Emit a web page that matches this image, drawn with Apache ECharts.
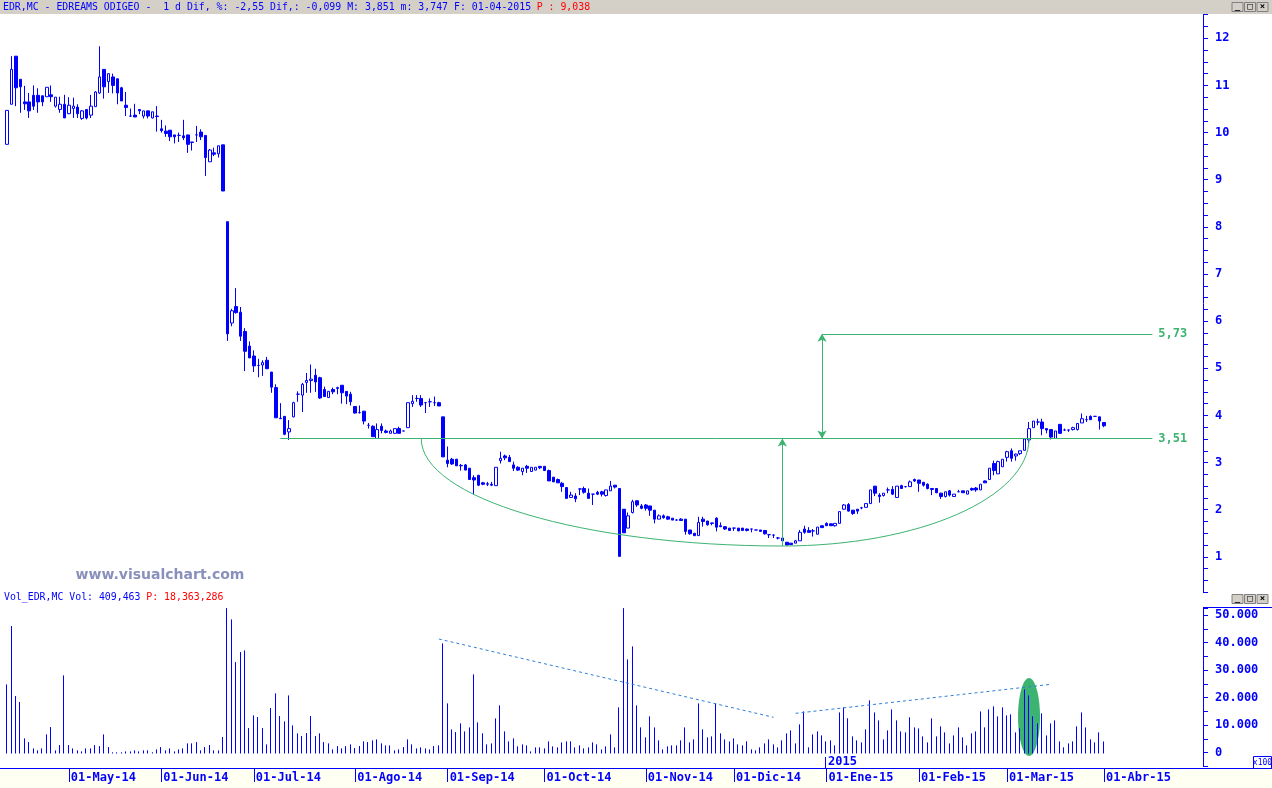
<!DOCTYPE html>
<html><head><meta charset="utf-8">
<script src="https://cdn.jsdelivr.net/npm/echarts@6/dist/echarts.min.js"></script>
<style>html,body{margin:0;padding:0;background:#fff}#c{width:1272px;height:788px}</style>
</head><body><div id="c"></div><script>
// trading sessions per month (future sessions after 01-04-2015 are empty slots)
const monthKeys = ['2014-04','2014-05','2014-06','2014-07','2014-08','2014-09','2014-10','2014-11','2014-12','2015-01','2015-02','2015-03','2015-04','2015-05'];
const monthDays = [
 [9,10,11,14,15,16,17,22,23,24,25,28,29,30],
 [2,5,6,7,8,9,12,13,14,15,16,19,20,21,22,23,26,27,28,29,30],
 [2,3,4,5,6,9,10,11,12,13,16,17,18,19,20,23,24,25,26,27,30],
 [1,2,3,4,7,8,9,10,11,14,15,16,17,18,21,22,23,24,25,28,29,30,31],
 [1,4,5,6,7,8,11,12,13,14,15,18,19,20,21,22,25,26,27,28,29],
 [1,2,3,4,5,8,9,10,11,12,15,16,17,18,19,22,23,24,25,26,29,30],
 [1,2,3,6,7,8,9,10,13,14,15,16,17,20,21,22,23,24,27,28,29,30,31],
 [3,4,5,6,7,10,11,12,13,14,17,18,19,20,21,24,25,26,27,28],
 [1,2,3,4,5,8,9,10,11,12,15,16,17,18,19,22,23,24,29,30,31],
 [2,5,6,7,8,9,12,13,14,15,16,19,20,21,22,23,26,27,28,29,30],
 [2,3,4,5,6,9,10,11,12,13,16,17,18,19,20,23,24,25,26,27],
 [2,3,4,5,6,9,10,11,12,13,16,17,18,19,20,23,24,25,26,27,30,31],
 [1,2,7,8,9,10,13,14,15,16,17,20,21,22,23,24,27,28,29,30],
 [4,5,6]
];
const monthNames = ['Ene','Feb','Mar','Abr','May','Jun','Jul','Ago','Sep','Oct','Nov','Dic'];

// [open, high, low, close]
const ohlc = [
[9.75,10.47,9.75,10.47],[10.60,11.62,10.60,11.34],[11.62,11.62,10.56,10.95],[11.13,11.13,10.42,10.97],[10.65,10.99,10.48,10.61],
[10.65,10.84,10.31,10.46],[10.79,11.00,10.48,10.56],[10.79,10.94,10.42,10.65],[10.78,10.78,10.56,10.65],[10.76,10.96,10.76,10.96],
[10.80,11.00,10.65,10.76],[10.56,10.75,10.53,10.75],[10.49,10.76,10.42,10.60],[10.60,10.80,10.31,10.31],[10.40,10.75,10.39,10.58],
[10.51,10.74,10.31,10.56],[10.54,10.60,10.31,10.40],[10.30,10.48,10.27,10.46],[10.49,10.49,10.28,10.31],[10.37,10.80,10.31,10.56],
[10.55,10.88,10.55,10.86],[10.84,11.83,10.82,11.18],[11.34,11.34,10.72,10.97],[11.08,11.25,10.84,11.25],[11.18,11.25,10.83,11.00],
[11.14,11.14,10.60,10.84],[10.95,10.97,10.67,10.67],[10.58,10.86,10.35,10.53],[10.35,10.51,10.33,10.35],[10.37,10.61,10.33,10.33],
[10.49,10.49,10.39,10.46],[10.35,10.46,10.30,10.46],[10.46,10.46,10.30,10.35],[10.31,10.44,10.30,10.44],[10.35,10.56,10.02,10.34],
[10.08,10.27,10.00,10.04],[10.03,10.15,9.91,9.98],[10.05,10.05,9.82,9.91],[9.95,9.95,9.77,9.91],[9.94,10.00,9.80,9.94],
[9.93,10.27,9.84,9.89],[9.95,9.95,9.57,9.75],[9.79,9.80,9.62,9.80],[9.95,10.14,9.80,9.95],[10.01,10.07,9.84,9.91],
[9.94,9.94,9.08,9.47],[9.38,9.65,9.38,9.63],[9.57,9.68,9.50,9.54],[9.55,9.72,9.47,9.72],[9.74,9.74,8.76,8.76],
[8.11,8.11,5.58,5.73],[5.96,6.26,5.89,6.22],[6.31,6.70,6.16,6.18],[6.19,6.30,5.58,5.68],[5.78,5.85,4.94,5.36],
[5.47,5.57,5.22,5.22],[5.26,5.38,4.92,5.05],[5.06,5.20,4.81,5.06],[5.07,5.17,4.84,5.12],[5.17,5.24,4.99,4.99],
[4.92,4.92,4.48,4.60],[4.59,4.66,3.95,3.95],[3.94,4.26,3.93,3.93],[3.98,3.98,3.58,3.60],[3.65,3.90,3.48,3.72],
[3.97,4.29,3.96,4.27],[4.45,4.51,4.29,4.45],[4.43,4.69,4.07,4.66],[4.70,4.90,4.48,4.74],[4.74,5.08,4.48,4.77],
[4.85,4.99,4.50,4.71],[4.80,4.82,4.35,4.37],[4.55,4.61,4.39,4.40],[4.38,4.51,4.38,4.51],[4.55,4.59,4.45,4.50],
[4.57,4.61,4.45,4.59],[4.64,4.64,4.25,4.48],[4.51,4.51,4.24,4.41],[4.45,4.50,4.21,4.29],[4.19,4.19,4.04,4.05],
[4.06,4.21,4.04,4.06],[4.09,4.09,3.81,3.88],[3.79,3.84,3.72,3.79],[3.77,3.79,3.55,3.55],[3.51,3.83,3.51,3.70],
[3.77,3.83,3.62,3.68],[3.67,3.70,3.62,3.64],[3.62,3.70,3.62,3.67],[3.62,3.72,3.62,3.72],[3.72,3.76,3.62,3.62],
[3.67,3.67,3.67,3.67],[3.74,4.27,3.74,4.27],[4.25,4.43,4.18,4.30],[4.36,4.43,4.29,4.36],[4.36,4.43,4.18,4.22],
[4.27,4.27,4.05,4.27],[4.29,4.36,4.18,4.29],[4.27,4.40,4.20,4.27],[4.27,4.29,4.20,4.20],[3.97,3.97,3.12,3.12],
[3.05,3.34,2.90,2.98],[3.07,3.10,2.95,2.97],[3.07,3.08,2.93,2.93],[2.94,2.97,2.83,2.93],[2.95,2.97,2.84,2.84],
[2.88,2.88,2.64,2.64],[2.68,2.73,2.33,2.63],[2.73,2.73,2.50,2.52],[2.57,2.59,2.52,2.54],[2.55,2.59,2.50,2.54],
[2.54,2.59,2.50,2.52],[2.51,2.90,2.51,2.90],[3.04,3.23,2.98,3.09],[3.14,3.17,3.05,3.10],[3.11,3.16,3.02,3.02],
[2.95,3.02,2.82,2.88],[2.90,2.92,2.82,2.84],[2.81,2.88,2.73,2.88],[2.92,2.95,2.78,2.88],[2.81,2.90,2.81,2.90],
[2.84,2.90,2.84,2.90],[2.92,2.92,2.86,2.89],[2.92,2.92,2.83,2.83],[2.83,2.85,2.61,2.61],[2.69,2.69,2.59,2.59],
[2.64,2.66,2.57,2.57],[2.56,2.59,2.38,2.49],[2.47,2.47,2.24,2.24],[2.26,2.38,2.26,2.31],[2.29,2.35,2.16,2.23],
[2.44,2.45,2.31,2.44],[2.45,2.49,2.34,2.37],[2.35,2.45,2.24,2.24],[2.33,2.33,2.10,2.33],[2.37,2.40,2.31,2.33],
[2.38,2.40,2.28,2.33],[2.30,2.42,2.28,2.42],[2.40,2.61,2.40,2.50],[2.52,2.52,2.45,2.48],[2.45,2.45,1.01,1.01],
[2.01,2.01,1.51,1.51],[1.61,1.94,1.61,1.87],[1.94,2.21,1.92,2.17],[2.19,2.19,2.06,2.10],[2.08,2.12,2.01,2.03],
[2.10,2.12,1.98,2.03],[2.08,2.08,1.87,1.99],[1.99,1.99,1.71,1.80],[1.80,1.90,1.80,1.87],[1.87,1.90,1.81,1.83],
[1.85,1.87,1.79,1.80],[1.82,1.82,1.78,1.78],[1.78,1.80,1.77,1.78],[1.80,1.82,1.77,1.77],[1.80,1.80,1.47,1.54],
[1.57,1.57,1.47,1.49],[1.50,1.50,1.44,1.45],[1.45,1.85,1.45,1.73],[1.80,1.85,1.64,1.75],[1.76,1.76,1.66,1.68],
[1.72,1.72,1.67,1.71],[1.82,1.84,1.54,1.63],[1.66,1.73,1.63,1.64],[1.64,1.65,1.57,1.59],[1.61,1.61,1.56,1.56],
[1.61,1.61,1.55,1.61],[1.61,1.61,1.55,1.55],[1.61,1.61,1.55,1.56],[1.59,1.60,1.54,1.56],[1.59,1.59,1.52,1.59],
[1.57,1.57,1.57,1.57],[1.57,1.57,1.54,1.54],[1.56,1.57,1.47,1.49],[1.47,1.47,1.40,1.47],[1.46,1.48,1.40,1.46],
[1.40,1.42,1.37,1.40],[1.40,1.44,1.29,1.34],[1.31,1.31,1.25,1.25],[1.29,1.29,1.25,1.26],[1.29,1.36,1.29,1.34],
[1.34,1.57,1.34,1.52],[1.59,1.66,1.49,1.52],[1.56,1.63,1.52,1.52],[1.55,1.59,1.43,1.55],[1.48,1.63,1.48,1.63],
[1.66,1.66,1.62,1.62],[1.71,1.73,1.66,1.66],[1.70,1.71,1.66,1.66],[1.66,1.71,1.64,1.71],[1.71,1.96,1.71,1.96],
[2.01,2.12,2.00,2.10],[2.11,2.14,1.96,1.97],[1.99,1.99,1.89,1.92],[2.01,2.01,1.91,1.97],[2.04,2.06,2.01,2.04],
[2.05,2.13,2.05,2.13],[2.13,2.42,2.13,2.42],[2.50,2.50,2.29,2.35],[2.31,2.35,2.15,2.28],[2.30,2.35,2.28,2.35],
[2.42,2.47,2.35,2.42],[2.43,2.50,2.31,2.33],[2.26,2.50,2.26,2.50],[2.51,2.53,2.44,2.45],[2.49,2.49,2.47,2.49],
[2.49,2.62,2.49,2.59],[2.64,2.66,2.59,2.61],[2.63,2.63,2.38,2.56],[2.58,2.59,2.49,2.52],[2.54,2.56,2.43,2.45],
[2.45,2.45,2.31,2.43],[2.45,2.45,2.35,2.36],[2.35,2.36,2.23,2.28],[2.28,2.38,2.26,2.38],[2.40,2.42,2.28,2.31],
[2.28,2.33,2.28,2.33],[2.38,2.42,2.38,2.38],[2.40,2.40,2.36,2.36],[2.33,2.40,2.33,2.40],[2.45,2.47,2.40,2.42],
[2.46,2.48,2.38,2.42],[2.42,2.54,2.42,2.54],[2.61,2.62,2.57,2.57],[2.64,2.88,2.64,2.88],[2.98,3.04,2.73,2.83],
[2.76,3.04,2.76,3.02],[2.91,3.07,2.91,3.07],[3.11,3.25,3.02,3.23],[3.25,3.30,3.02,3.09],[3.14,3.19,3.04,3.18],
[3.19,3.25,3.16,3.25],[3.26,3.51,3.26,3.50],[3.48,3.86,3.41,3.72],[3.74,3.88,3.74,3.88],[3.86,3.93,3.79,3.86],
[3.86,3.93,3.58,3.72],[3.72,3.72,3.62,3.69],[3.70,3.70,3.49,3.54],[3.51,3.67,3.51,3.67],[3.81,3.81,3.62,3.62],
[3.69,3.72,3.67,3.69],[3.69,3.70,3.65,3.69],[3.70,3.76,3.68,3.74],[3.70,3.83,3.68,3.83],[3.84,4.04,3.84,3.93],
[3.91,3.99,3.86,3.91],[3.98,4.00,3.91,3.91],[3.98,3.98,3.97,3.98],[3.97,3.97,3.70,3.88],[3.85,3.85,3.75,3.78]
];

// volume in units of x100
const volumes = [
24800,46000,20570,18400,5200,3870,1570,850,1570,6650,9300,850,2780,28070,2780,1570,850,480,1570,1570,
2780,2420,6650,2060,150,150,150,480,480,850,480,850,850,150,1210,2060,850,1570,480,1210,
1570,3390,3390,3870,850,2060,2780,850,850,5690,53500,48400,32900,36540,37150,8950,13550,12950,8950,3030,
16210,21540,13310,11370,20810,9920,7020,6050,7140,13310,6050,7020,3870,3390,1210,2420,1570,2420,3030,1690,
2420,4110,3870,4480,4840,3390,2660,2660,850,1210,2060,4840,3030,1570,1940,1570,1210,2420,2660,39690,
17910,8470,7500,10650,7740,9200,28440,11010,7020,3030,3390,12460,17180,7740,4110,5200,2300,3030,2660,480,
1940,1940,1570,4110,2300,1940,3750,4110,4110,1940,2660,1570,1940,3750,3030,1210,2300,6650,1940,16460,
53500,33880,38600,17180,9200,5570,13190,9200,4480,1210,2300,2660,2660,4480,9200,3750,4840,17910,8470,5570,
5930,17910,7020,4840,4110,5200,3030,2660,4110,1210,850,1940,3390,4840,3030,1940,4480,7020,8110,3390,
10290,15000,1940,6650,7740,6290,4110,4480,2660,14640,16460,12500,5930,4480,3750,8470,19000,14640,11740,4840,
8110,15730,11740,7740,7380,12830,9200,8830,5930,3750,12460,5930,9560,7380,3390,6290,9200,5570,2660,7020,
7740,15000,9200,15730,16820,13190,16460,13550,13920,7380,8830,22990,20810,13190,10650,14280,6290,10650,11740,4110,
1940,3390,4110,9560,14640,9200,4840,3750,7380,4095
];

// chart annotations drawn on the reference (category index, value)
const levelLow = 3.51, levelHigh = 5.73;
const levelLowStart = 62, levelHighStart = 185, levelEnd = 260;
const cupLeft = [94, 3.51], cupBottom = [176, 1.23], cupRight = [232, 3.51];
const volTrendDown = [[98, 41290], [174, 12850]];
const volTrendUp = [[179, 14300], [237, 24840]];
const volHighlight = [232, 13000];
const yearMarker = {index: 186, text: '2015'};

const BLUE = '#0000ff', GREEN = '#3cb371';
const pad = n => (n < 10 ? '0' : '') + n;
const dates = [];
monthKeys.forEach((k, i) => monthDays[i].forEach(d => dates.push(k + '-' + pad(d))));
const monthStart = new Set();
for (let i = 1; i < ohlc.length; i++) if (dates[i].slice(0, 7) !== dates[i - 1].slice(0, 7)) monthStart.add(i);
const showIdx = (i) => monthStart.has(i);
const dateLabel = v => { const p = v.split('-'); return '01-' + monthNames[+p[1] - 1] + '-' + p[0].slice(2); };
const fmtVol = v => { if (v < 0 || Math.abs(v % 10000) > 1e-6) return ''; return String(Math.round(v)).replace(/\B(?=(\d{3})+(?!\d))/g, '.'); };
const fmtPrice = v => Math.abs(v - Math.round(v)) < 1e-6 ? String(Math.round(v)) : '';

const MONO = 'DejaVu Sans Mono';
const chart = echarts.init(document.getElementById('c'), null, {renderer: 'canvas'});

function renderVolume(params, api) {
  const top = api.coord([api.value(0), api.value(1)]);
  const base = api.coord([api.value(0), 0]);
  const cs = params.coordSys;
  const x = Math.round(top[0]) - 0.5;
  const y1 = Math.max(top[1], cs.y);
  return {type: 'line', shape: {x1: x, y1: y1, x2: x, y2: Math.round(base[1]) + 0.5}, style: {stroke: BLUE, lineWidth: 1}};
}

const option = {
  animation: false,
  backgroundColor: '#ffffff',
  grid: [
    {left: 5, right: 69, top: 14.7, height: 577.5},
    {left: 5, right: 69, top: 608.1, height: 158.4}
  ],
  xAxis: [
    {type: 'category', gridIndex: 0, data: dates, boundaryGap: true,
     axisLine: {show: false, onZero: false}, axisTick: {show: false}, axisLabel: {show: false}, splitLine: {show: false}},
    {type: 'category', gridIndex: 1, data: dates, boundaryGap: true, position: 'bottom', offset: 1.5,
     axisLine: {show: false, onZero: false},
     axisTick: {show: true, alignWithLabel: true, interval: (i) => showIdx(i), length: 14, lineStyle: {color: BLUE, width: 1}},
     axisLabel: {interval: (i) => showIdx(i), formatter: dateLabel, align: 'left', padding: [0, 0, 0, 2], margin: 4,
       color: BLUE, fontWeight: 'bold', fontFamily: MONO, fontSize: 12},
     splitLine: {show: false}}
  ],
  yAxis: [
    {type: 'value', gridIndex: 0, position: 'right', min: 0.25, max: 12.5, interval: 0.25, scale: false,
     splitLine: {show: false}, axisLine: {show: true, lineStyle: {color: BLUE, width: 1}},
     axisTick: {show: true, length: 5, lineStyle: {color: BLUE}},
     axisLabel: {formatter: fmtPrice, margin: 12, color: BLUE, fontWeight: 'bold', fontFamily: MONO, fontSize: 12}},
    {type: 'value', gridIndex: 1, position: 'right', min: -5000, max: 52500, interval: 5000,
     splitLine: {show: false}, axisLine: {show: true, lineStyle: {color: BLUE, width: 1}},
     axisTick: {show: true, length: 5, lineStyle: {color: BLUE}},
     axisLabel: {formatter: fmtVol, margin: 12, color: BLUE, fontWeight: 'bold', fontFamily: MONO, fontSize: 12}}
  ],
  series: [
    {type: 'candlestick', xAxisIndex: 0, yAxisIndex: 0, barWidth: 3,
     data: ohlc.map(r => [r[0], r[3], r[2], r[1]]),
     itemStyle: {color: '#ffffff', color0: BLUE, borderColor: BLUE, borderColor0: BLUE, borderColorDoji: BLUE, borderWidth: 1},
     markLine: {
       silent: true, animation: false,
       lineStyle: {color: GREEN, width: 1, type: 'solid'},
       label: {show: true, position: 'end', distance: 6, color: GREEN, fontWeight: 'bold', fontFamily: MONO, fontSize: 12},
       data: [
         [{coord: [levelLowStart, levelLow], symbol: 'none'}, {coord: [levelEnd, levelLow], symbol: 'none', label: {formatter: '3,51'}}],
         [{coord: [levelHighStart, levelHigh], symbol: 'none'}, {coord: [levelEnd, levelHigh], symbol: 'none', label: {formatter: '5,73'}}],
         [{coord: [levelHighStart, levelLow], symbol: 'arrow', symbolSize: [7, 8]}, {coord: [levelHighStart, levelHigh], symbol: 'arrow', symbolSize: [7, 8], label: {show: false}}],
         [{coord: cupBottom, symbol: 'none'}, {coord: [cupBottom[0], levelLow], symbol: 'arrow', symbolSize: [7, 8], label: {show: false}}]
       ]
     }},
    {type: 'custom', xAxisIndex: 1, yAxisIndex: 1, z: 3, clip: false,
     data: volumes.map((v, i) => [i, v]),
     encode: {x: 0, y: 1},
     renderItem: renderVolume},
    {type: 'line', xAxisIndex: 1, yAxisIndex: 1, data: [], symbol: 'none',
     markLine: {
       silent: true, animation: false, symbol: 'none',
       lineStyle: {color: '#2f7fd6', width: 1, type: [3, 3]},
       label: {show: false},
       data: [
         [{coord: volTrendDown[0]}, {coord: volTrendDown[1]}],
         [{coord: volTrendUp[0]}, {coord: volTrendUp[1]}]
       ]
     }}
  ]
};
chart.setOption(option);

function btns(y) {
  const xs = [1232, 1244.5, 1257];
  const glyph = ['_', '□', '×'];
  const out = [];
  xs.forEach((x, i) => {
    out.push({type: 'rect', z: 50, shape: {x: x, y: y, width: 11, height: 9}, style: {fill: '#d4d0c8', stroke: '#808080', lineWidth: 1}});
    out.push({type: 'text', z: 51, x: x + 5.5, y: y + 4, style: {text: glyph[i], fill: '#000', font: 'bold 9px ' + MONO, align: 'center', verticalAlign: 'middle', textAlign: 'center', textVerticalAlign: 'middle'}});
  });
  return out;
}
function monoText(x, y, text, fill) {
  return {type: 'text', z: 51, x: x, y: y, scaleX: 0.896, style: {text: text, fill: fill, font: '11px ' + MONO, align: 'left', verticalAlign: 'middle', textAlign: 'left', textVerticalAlign: 'middle'}};
}

const P = (si, pt) => chart.convertToPixel({seriesIndex: si}, pt);
const L = P(0, cupLeft), B = P(0, cupBottom), R = P(0, cupRight);
const k = 0.5523;
const E = P(1, volHighlight);
const Y = P(1, [yearMarker.index, 0]);
const cw = 5.93;

chart.setOption({
  graphic: [
    {type: 'rect', z: -10, shape: {x: 0, y: 768, width: 1272, height: 20}, style: {fill: '#fffff2'}},
    {type: 'line', z: 5, shape: {x1: 0, y1: 768.5, x2: 1272, y2: 768.5}, style: {stroke: BLUE, lineWidth: 1}},
    {type: 'line', z: 5, shape: {x1: 1203, y1: 607.5, x2: 1272, y2: 607.5}, style: {stroke: BLUE, lineWidth: 1}},
    {type: 'rect', z: 49, shape: {x: 0, y: 0, width: 1272, height: 14}, style: {fill: '#d4d0c8'}},
    monoText(3, 7.5, 'EDR,MC - EDREAMS ODIGEO -  1 d Dif, %: -2,55 Dif,: -0,099 M: 3,851 m: 3,747 F: 01-04-2015', BLUE),
    monoText(3 + 90 * cw, 7.5, 'P : 9,038', '#ff0000'),
    ...btns(2.5),
    monoText(4, 597.5, 'Vol_EDR,MC Vol: 409,463', BLUE),
    monoText(4 + 24 * cw, 597.5, 'P: 18,363,286', '#ff0000'),
    ...btns(594.5),
    {type: 'rect', z: 6, shape: {x: 1253.5, y: 756.5, width: 18, height: 12}, style: {fill: '#ffffff', stroke: BLUE, lineWidth: 1}},
    {type: 'text', z: 7, x: 1262.5, y: 763, style: {text: 'x100', fill: BLUE, font: '8px ' + MONO, align: 'center', verticalAlign: 'middle', textAlign: 'center', textVerticalAlign: 'middle'}},
    {type: 'text', z: 5, x: 160, y: 575, style: {text: 'www.visualchart.com', fill: '#8a90bc', font: 'bold 14px "DejaVu Sans"', align: 'center', verticalAlign: 'middle', textAlign: 'center', textVerticalAlign: 'middle'}},
    {type: 'bezierCurve', z: 4, shape: {x1: L[0], y1: L[1], cpx1: L[0], cpy1: L[1] + k * (B[1] - L[1]), cpx2: B[0] - k * (B[0] - L[0]), cpy2: B[1], x2: B[0], y2: B[1]}, style: {stroke: GREEN, lineWidth: 1, fill: null}},
    {type: 'bezierCurve', z: 4, shape: {x1: B[0], y1: B[1], cpx1: B[0] + k * (R[0] - B[0]), cpy1: B[1], cpx2: R[0], cpy2: R[1] + k * (B[1] - R[1]), x2: R[0], y2: R[1]}, style: {stroke: GREEN, lineWidth: 1, fill: null}},
    {type: 'ellipse', z: 1, shape: {cx: E[0], cy: E[1], rx: 11, ry: 39}, style: {fill: GREEN}},
    {type: 'line', z: 5, shape: {x1: Math.round(Y[0]) - 0.5, y1: 757, x2: Math.round(Y[0]) - 0.5, y2: 768}, style: {stroke: BLUE, lineWidth: 1}},
    {type: 'text', z: 5, x: Math.round(Y[0]) + 2, y: 762, style: {text: yearMarker.text, fill: BLUE, font: 'bold 12px ' + MONO, align: 'left', verticalAlign: 'middle', textAlign: 'left', textVerticalAlign: 'middle'}}
  ]
});
</script></body></html>
